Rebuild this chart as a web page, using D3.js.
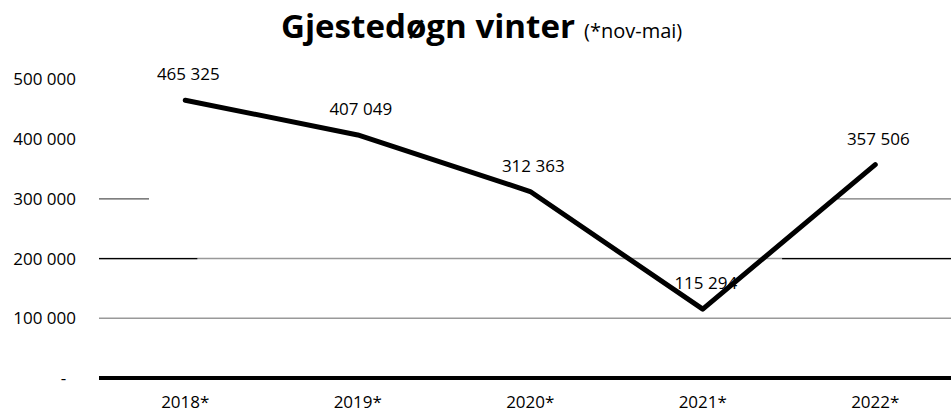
<!DOCTYPE html>
<html>
<head>
<meta charset="utf-8">
<script src="https://cdn.jsdelivr.net/npm/d3@7"></script>
<style>
  html, body { margin: 0; padding: 0; background: #fff; }
  svg { display: block; font-family: "Open Sans", sans-serif; }
</style>
</head>
<body>
<svg id="chart" width="951" height="413"></svg>
<script>
// ---- data ----
const categories = ["2018*", "2019*", "2020*", "2021*", "2022*"];
const values = [465325, 407049, 312363, 115294, 357506];
const yTicks = [0, 100000, 200000, 300000, 400000, 500000];
const gridValues = [100000, 200000];
const titleMain = "Gjestedøgn vinter";
const titleSub = "(*nov-mai)";

// ---- layout ----
const W = 951, H = 413;
const plot = { left: 99, right: 961.5, top: 79.5, bottom: 378 };

const svg = d3.select("#chart");

const x = d3.scaleBand().domain(categories).range([plot.left, plot.right]).padding(0);
const y = d3.scaleLinear().domain([0, 500000]).range([plot.bottom, plot.top]);

const loc = d3.formatLocale({ decimal: ",", thousands: " ", grouping: [3], currency: ["", ""] });
const fmt = loc.format(",d");

// gridlines
svg.append("g").selectAll("line")
  .data(gridValues)
  .join("line")
  .attr("x1", plot.left).attr("x2", W)
  .attr("y1", d => y(d)).attr("y2", d => y(d))
  .attr("stroke", "#999").attr("stroke-width", 1.5);

// darker overlay pieces on the 200 000 gridline (as seen in reference)
const g2 = y(200000);
svg.append("line").attr("x1", plot.left).attr("x2", plot.left + x.step() * 0.57)
  .attr("y1", g2).attr("y2", g2).attr("stroke", "#000").attr("stroke-width", 1.2);
svg.append("line").attr("x1", plot.left + x.step() * 3.96).attr("x2", W)
  .attr("y1", g2).attr("y2", g2).attr("stroke", "#000").attr("stroke-width", 1.2);

// partial 300 000 gridline (as seen in reference)
const g3 = y(300000);
svg.append("line").attr("x1", plot.left).attr("x2", plot.left + x.step() * 0.29)
  .attr("y1", g3).attr("y2", g3).attr("stroke", "#555").attr("stroke-width", 1.2);
svg.append("line").attr("x1", plot.left + x.step() * 4.28).attr("x2", W)
  .attr("y1", g3).attr("y2", g3).attr("stroke", "#777").attr("stroke-width", 1.2);

// y axis labels
const yAxis = d3.axisLeft(y).tickValues(yTicks).tickSize(0).tickPadding(0)
  .tickFormat(d => d === 0 ? "-\u2007" : fmt(d));
const yg = svg.append("g").attr("transform", "translate(76,0)").call(yAxis);
yg.select(".domain").remove();
yg.selectAll("text").attr("font-size", 17).attr("fill", "#000")
  .attr("font-family", "Open Sans, sans-serif");

// x axis
const xAxis = d3.axisBottom(x).tickSize(0).tickPadding(0);
const xg = svg.append("g").attr("transform", `translate(0,${plot.bottom})`).call(xAxis);
xg.select(".domain").remove();
xg.selectAll("text").attr("font-size", 17).attr("fill", "#000")
  .attr("font-family", "Open Sans, sans-serif")
  .attr("dy", null).attr("y", 30);

// baseline
svg.append("line")
  .attr("x1", plot.left).attr("x2", W)
  .attr("y1", y(0)).attr("y2", y(0))
  .attr("stroke", "#000").attr("stroke-width", 4);

// line
const line = d3.line()
  .x((d, i) => x(categories[i]) + x.bandwidth() / 2)
  .y(d => y(d));
svg.append("path")
  .datum(values)
  .attr("d", line)
  .attr("fill", "none")
  .attr("stroke", "#000")
  .attr("stroke-width", 5)
  .attr("stroke-linejoin", "round")
  .attr("stroke-linecap", "round");

// data labels
svg.append("g").selectAll("text")
  .data(values)
  .join("text")
  .attr("x", (d, i) => x(categories[i]) + x.bandwidth() / 2 + 3)
  .attr("y", d => y(d) - 20)
  .attr("text-anchor", "middle")
  .attr("font-size", 17)
  .attr("fill", "#000")
  .text(d => fmt(d));

// title
svg.append("text").attr("x", 281).attr("y", 38)
  .attr("font-weight", 700).attr("font-size", 33)
  .attr("textLength", 294).attr("lengthAdjust", "spacingAndGlyphs")
  .text(titleMain);
svg.append("text").attr("x", 584).attr("y", 38)
  .attr("font-size", 20)
  .text(titleSub);
</script>
</body>
</html>
